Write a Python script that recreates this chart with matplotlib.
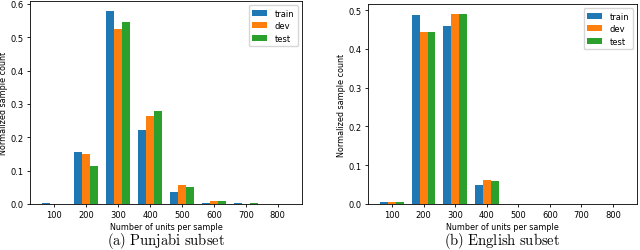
import numpy as np
import matplotlib
matplotlib.use("Agg")
import matplotlib.pyplot as plt

plt.rcParams['mathtext.fontset'] = 'cm'

## DATA
units = [100, 200, 300, 400, 500, 600, 700, 800]
splits = ['train', 'dev', 'test']

punjabi_train = [0.002, 0.157, 0.580, 0.223, 0.035, 0.004, 0.002, 0.0]
punjabi_dev   = [0.0,   0.150, 0.524, 0.265, 0.057, 0.008, 0.0005, 0.0]
punjabi_test  = [0.0,   0.115, 0.547, 0.279, 0.050, 0.009, 0.002, 0.0]

english_train = [0.005, 0.487, 0.458, 0.049, 0.001, 0.0,   0.0, 0.0]
english_dev   = [0.005, 0.443, 0.490, 0.063, 0.0,   0.0,   0.0, 0.0]
english_test  = [0.005, 0.444, 0.491, 0.058, 0.001, 0.001, 0.0, 0.0]

colors = ['#1f77b4', '#ff7f0e', '#2ca02c']
#

fig = plt.figure(figsize=(6.4, 2.51), dpi=100)
ax1 = fig.add_axes([30/640, 46/251, 272/640, 203/251])
ax2 = fig.add_axes([368/640, 46/251, 269/640, 200/251])

def draw(ax, series, caption):
    x = np.array(units)
    w = 25
    for i, (vals, name) in enumerate(zip(series, splits)):
        ax.bar(x + (i - 1) * w, vals, width=w, color=colors[i], label=name)
    ax.set_xticks(units)
    ax.tick_params(labelsize=6, length=2.5, width=0.6, pad=2)
    ax.set_xlabel('Number of units per sample', fontsize=5.8, labelpad=2)
    ax.set_ylabel('Normalized sample count', fontsize=5.8, labelpad=2)
    for s in ax.spines.values():
        s.set_linewidth(0.6)
    ax.legend(loc='upper right', fontsize=6, handlelength=1.8, borderpad=0.45,
              labelspacing=0.4, handletextpad=0.85)
    # caption below the panel
    pos = ax.get_position()
    fig.text((pos.x0 + pos.x1) / 2, 6/251, caption, ha='center', va='baseline',
             fontsize=10.5)

draw(ax1, [punjabi_train, punjabi_dev, punjabi_test], r'$\mathrm{(a)\ Punjabi\ subset}$')
draw(ax2, [english_train, english_dev, english_test], r'$\mathrm{(b)\ English\ subset}$')

fig.savefig('out.png', dpi=100)
